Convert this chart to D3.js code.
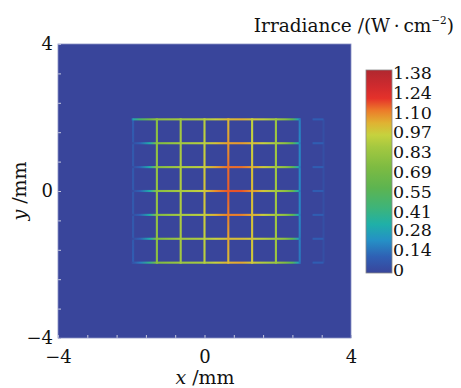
<!DOCTYPE html>
<html>
<head>
<meta charset="utf-8">
<script src="https://cdn.jsdelivr.net/npm/d3@7"></script>
<style>
  body { margin: 0; background: #fff; }
  text { font-family: "DejaVu Serif", "Liberation Serif", serif; fill: #111; }
</style>
</head>
<body>
<div id="chart"></div>
<script>
// grid line positions (mm)
const xLines = [-1.95, -1.30, -0.65, 0, 0.65, 1.30, 1.95, 2.60];
const yLines = [1.95, 1.30, 0.65, 0, -0.65, -1.30, -1.95];

// sample positions along the horizontal lines (mm)
const hSampleX = [-2.0, -1.95, -1.75, -1.5, -1.3, -0.65, 0, 0.3, 0.65, 1.0, 1.3, 1.6, 1.95, 2.2, 2.4, 2.55, 2.62];
// irradiance along each horizontal line (top to bottom), W/cm^2
const hValues = [
  [0.05, 0.30, 0.50, 0.66, 0.78, 0.84, 0.88, 0.94, 1.00, 1.02, 0.98, 0.92, 0.84, 0.76, 0.58, 0.30, 0.12],
  [0.01, 0.04, 0.12, 0.32, 0.72, 0.84, 0.90, 0.98, 1.05, 1.06, 1.02, 0.94, 0.86, 0.78, 0.60, 0.32, 0.12],
  [0.01, 0.04, 0.12, 0.32, 0.74, 0.86, 0.92, 1.04, 1.12, 1.12, 1.06, 0.96, 0.86, 0.78, 0.60, 0.32, 0.12],
  [0.01, 0.04, 0.12, 0.32, 0.76, 0.86, 0.94, 1.08, 1.15, 1.15, 1.08, 0.97, 0.86, 0.78, 0.62, 0.34, 0.12],
  [0.01, 0.04, 0.12, 0.32, 0.74, 0.86, 0.92, 1.02, 1.10, 1.10, 1.04, 0.95, 0.86, 0.78, 0.60, 0.32, 0.12],
  [0.01, 0.04, 0.12, 0.32, 0.72, 0.84, 0.88, 0.94, 0.99, 0.99, 0.96, 0.90, 0.84, 0.76, 0.58, 0.30, 0.12],
  [0.02, 0.06, 0.18, 0.40, 0.72, 0.82, 0.86, 0.94, 1.02, 1.04, 0.97, 0.88, 0.82, 0.72, 0.55, 0.28, 0.10]
];
// irradiance along each vertical line, sampled at yLines
const vValues = [
  [0.10, 0.08, 0.08, 0.08, 0.08, 0.08, 0.10],
  [0.76, 0.78, 0.80, 0.80, 0.80, 0.78, 0.76],
  [0.84, 0.86, 0.88, 0.88, 0.88, 0.86, 0.84],
  [0.90, 0.92, 0.96, 0.98, 0.96, 0.92, 0.90],
  [1.00, 1.06, 1.12, 1.14, 1.10, 1.04, 1.00],
  [0.92, 0.94, 0.98, 1.00, 0.98, 0.98, 0.96],
  [0.82, 0.84, 0.84, 0.85, 0.84, 0.84, 0.82],
  [0.18, 0.20, 0.20, 0.20, 0.20, 0.18, 0.16]
];
// faint ghost segments right of the grid
const ghostX = [2.95, 3.25];
const ghostValue = 0.10;
const ghostVLine = 3.25;
const ghostVValue = 0.04;

const xTicks = [-4, 0, 4];
const yTicks = [-4, 0, 4];
const cbTicks = [0, 0.14, 0.28, 0.41, 0.55, 0.69, 0.83, 0.97, 1.10, 1.24, 1.38];
const cbLabels = ["0", "0.14", "0.28", "0.41", "0.55", "0.69", "0.83", "0.97", "1.10", "1.24", "1.38"];
const vMax = 1.38;

// colormap stops (fraction of max) and colours
const cmapStops = [0, 0.08, 0.16, 0.24, 0.32, 0.42, 0.52, 0.62, 0.68, 0.74, 0.80, 0.86, 0.92, 1.0];
const cmapColors = ["#39459b", "#2f60b4", "#2590c6", "#1fb0a8", "#3db47a", "#5db450", "#7dbb42",
                    "#a4c840", "#c6d23e", "#e0b232", "#ec7c2a", "#e5322a", "#cf2a2e", "#b0282f"];

const W = 461, H = 388;
const svg = d3.select("#chart").append("svg").attr("width", W).attr("height", H);
const defs = svg.append("defs");

const x = d3.scaleLinear().domain([-4, 4]).range([58, 351]);
const y = d3.scaleLinear().domain([-4, 4]).range([338, 44]);
const color = d3.scaleLinear()
  .domain(cmapStops.map(s => s * vMax))
  .range(cmapColors)
  .interpolate(d3.interpolateRgb)
  .clamp(true);

// background
svg.append("rect")
  .attr("x", x(-4)).attr("y", y(4))
  .attr("width", x(4) - x(-4)).attr("height", y(-4) - y(4))
  .attr("fill", color(0));

const lw = 2.1;
const plot = svg.append("g");

// horizontal lines
hValues.forEach((row, i) => {
  const x1 = x(hSampleX[0]), x2 = x(hSampleX[hSampleX.length - 1]);
  const g = defs.append("linearGradient")
    .attr("id", "h" + i).attr("gradientUnits", "userSpaceOnUse")
    .attr("x1", x1).attr("x2", x2).attr("y1", 0).attr("y2", 0);
  row.forEach((v, j) => {
    g.append("stop").attr("offset", (x(hSampleX[j]) - x1) / (x2 - x1)).attr("stop-color", color(v));
  });
  plot.append("rect")
    .attr("x", x1).attr("width", x2 - x1)
    .attr("y", y(yLines[i]) - lw / 2).attr("height", lw)
    .attr("fill", "url(#h" + i + ")");
  // ghost dash
  plot.append("rect")
    .attr("x", x(ghostX[0])).attr("width", x(ghostX[1]) - x(ghostX[0]))
    .attr("y", y(yLines[i]) - lw / 2).attr("height", lw)
    .attr("fill", color(ghostValue));
});

// vertical lines (faint outer ones sit under the bright rows)
vValues.forEach((col, i) => {
  const y1 = y(yLines[0]), y2 = y(yLines[yLines.length - 1]);
  const g = defs.append("linearGradient")
    .attr("id", "v" + i).attr("gradientUnits", "userSpaceOnUse")
    .attr("x1", 0).attr("x2", 0).attr("y1", y1).attr("y2", y2);
  col.forEach((v, j) => {
    g.append("stop").attr("offset", (y(yLines[j]) - y1) / (y2 - y1)).attr("stop-color", color(v));
  });
  const r = plot.append("rect")
    .attr("x", x(xLines[i]) - lw / 2).attr("width", lw)
    .attr("y", y1 - lw / 2).attr("height", y2 - y1 + lw)
    .attr("fill", "url(#v" + i + ")");
  if (i === 0 || i === 7) r.lower();
});

plot.append("rect")
  .attr("x", x(ghostVLine) - lw / 2).attr("width", lw)
  .attr("y", y(yLines[0])).attr("height", y(yLines[yLines.length - 1]) - y(yLines[0]))
  .attr("fill", color(ghostVValue))
  .lower();

// minor inner ticks
const minor = d3.range(-4, 4.01, 0.8);
svg.append("g").attr("transform", `translate(0,${y(-4)})`)
  .call(d3.axisTop(x).tickValues(minor).tickSize(3).tickFormat(""))
  .call(g => g.select(".domain").remove())
  .selectAll("line").attr("stroke", "#c8cbe0");
svg.append("g").attr("transform", `translate(${x(-4)},0)`)
  .call(d3.axisRight(y).tickValues(minor).tickSize(3).tickFormat(""))
  .call(g => g.select(".domain").remove())
  .selectAll("line").attr("stroke", "#c8cbe0");

// frame
svg.append("rect")
  .attr("x", x(-4)).attr("y", y(4))
  .attr("width", x(4) - x(-4)).attr("height", y(-4) - y(4))
  .attr("fill", "none").attr("stroke", "#8a92c4").attr("stroke-width", 0.8);

// axes labels
svg.append("g").attr("transform", `translate(0,${y(-4)})`)
  .call(d3.axisBottom(x).tickValues(xTicks).tickSize(0).tickPadding(12))
  .call(g => g.select(".domain").remove())
  .selectAll("text").attr("font-size", 18).attr("font-family", "DejaVu Serif").attr("fill", "#111");
svg.append("g").attr("transform", `translate(${x(-4)},0)`)
  .call(d3.axisLeft(y).tickValues(yTicks).tickSize(0).tickPadding(5))
  .call(g => g.select(".domain").remove())
  .selectAll("text").attr("font-size", 18).attr("font-family", "DejaVu Serif").attr("fill", "#111");

const xt = svg.append("text").attr("x", 205).attr("y", 384)
  .attr("text-anchor", "middle").attr("font-size", 19);
xt.append("tspan").attr("font-style", "italic").text("x");
xt.append("tspan").text(" /mm");

const yt = svg.append("text")
  .attr("transform", "translate(26,191) rotate(-90)")
  .attr("text-anchor", "middle").attr("font-size", 19);
yt.append("tspan").attr("font-style", "italic").text("y");
yt.append("tspan").text(" /mm");

// colorbar
const cbX = 366, cbW = 26, cbTop = 70, cbBot = 273;
const cb = d3.scaleLinear().domain([0, vMax]).range([270, 73]);
const cg = defs.append("linearGradient").attr("id", "cbar")
  .attr("x1", 0).attr("x2", 0).attr("y1", 1).attr("y2", 0);
cmapStops.forEach((s, i) => cg.append("stop").attr("offset", s).attr("stop-color", cmapColors[i]));
svg.append("rect")
  .attr("x", cbX).attr("y", cbTop).attr("width", cbW).attr("height", cbBot - cbTop)
  .attr("fill", "url(#cbar)").attr("stroke", "#888").attr("stroke-width", 0.8);

svg.append("g").attr("transform", `translate(${cbX + cbW},0)`)
  .call(d3.axisRight(cb).tickValues(cbTicks).tickSize(0).tickPadding(1)
    .tickFormat((d, i) => cbLabels[i]))
  .call(g => g.select(".domain").remove())
  .selectAll("text").attr("font-size", 17.5).attr("font-family", "DejaVu Serif").attr("fill", "#111");

const ct = svg.append("text").attr("x", 454).attr("y", 32)
  .attr("text-anchor", "end").attr("font-size", 18.5);
ct.append("tspan").text("Irradiance /(W\u2009\u00b7\u2009cm");
ct.append("tspan").attr("font-size", 10.5).attr("dy", -8).text("\u22122");
ct.append("tspan").attr("dy", 8).text(")");
</script>
</body>
</html>
